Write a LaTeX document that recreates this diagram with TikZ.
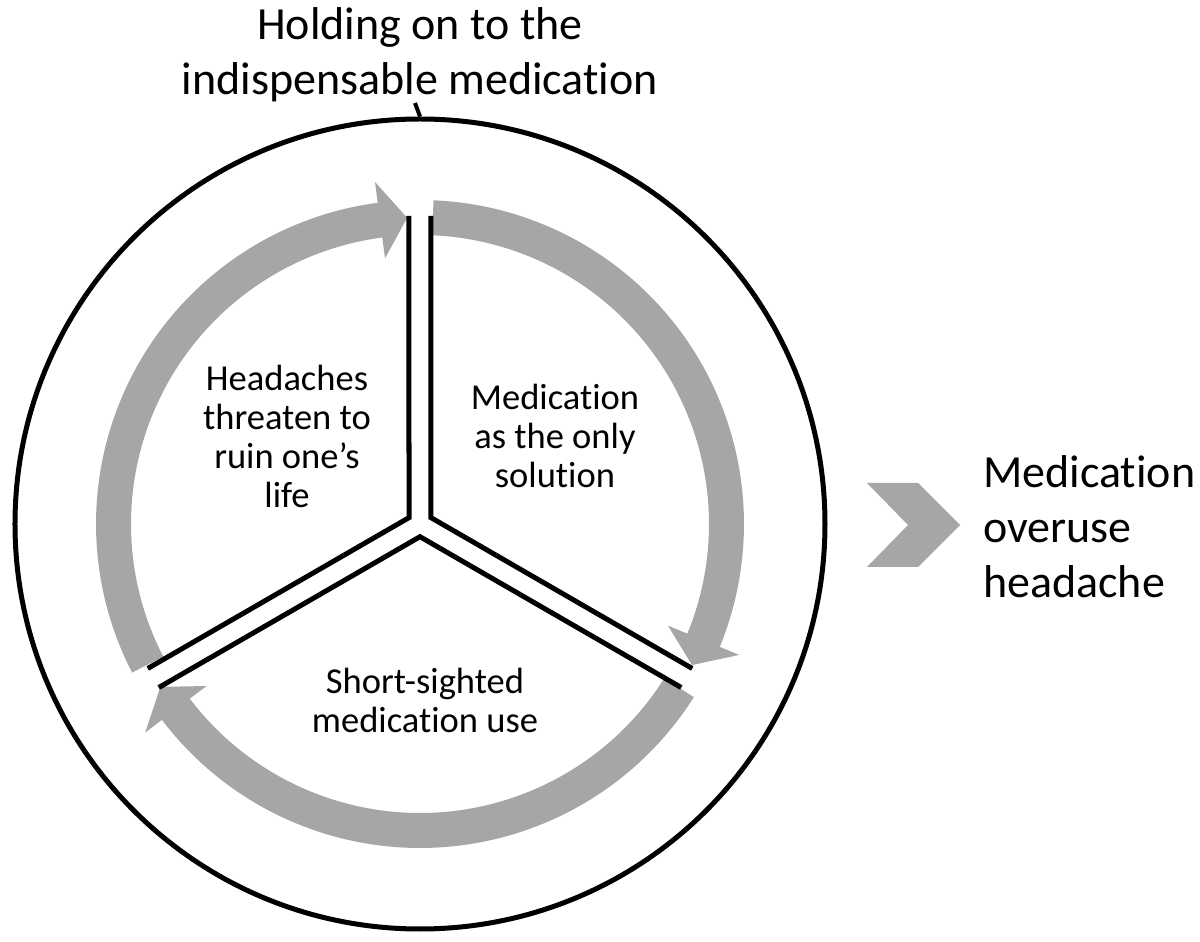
\documentclass[tikz,border=0pt]{standalone}
\usepackage{fontspec}
\setmainfont{Carlito}[Ligatures=NoCommon]
\usetikzlibrary{calc}
\definecolor{arrowgray}{RGB}{166,166,166}

\begin{document}
\begin{tikzpicture}[x=1pt, y=1pt,
    divider/.style={draw, line width=5pt, line join=miter},
    band/.style={fill=arrowgray},
    inner/.style={align=center, inner sep=0pt, font=\fontsize{36.5}{39}\selectfont},
    outer/.style={align=center, inner sep=0pt, font=\fontsize{46}{55}\selectfont}]
    \useasboundingbox (-420,-418) rectangle (780,524);
    % Outer ring
    \node[circle, draw, line width=5pt, minimum size=810, inner sep=0pt] (ring) at (0,0) {};
    \coordinate (tick) at (-5,421);
    \draw[line width=4pt] (ring.north) -- (tick);
    % Gray arrows
    \foreach \s/\t in {207.3/92.4, 87.6/-27.4, -32.3/-147.9} {
        \pgfmathsetmacro{\b}{\t+5.1}
        \fill[band] (\s:324) arc[start angle=\s, end angle=\b, radius=324]
            -- (\b:345) -- (\t:306.5) -- (\b:268) -- (\b:289)
            arc[start angle=\b, end angle=\s, radius=289] -- cycle;
    }
    % Dividers
    \foreach \w in {30,150,270} {
        \draw[divider] ($({\w+60}:308)+({\w-30}:11)$) -- (\w:12.7)
            -- ($({\w-60}:308)+({\w+30}:11)$);
    }
    % Labels
    \node[outer] (title) at (0,469) {Holding on to the\\indispensable medication};
    \node[inner] (threat) at (-133,88) {Headaches\\threaten to\\ruin one’s\\life};
    \node[inner] (only) at (135,88) {Medication\\as the only\\solution};
    \node[inner] (short) at (5,-176) {Short-sighted\\medication use};
    % Outcome
    \fill[arrowgray] (447,41) -- (498,41) -- (540,-1) -- (498,-43) -- (447,-43) -- (488,-1) -- cycle;
    \node[outer, align=left, anchor=west] (moh) at (563,-3) {Medication\\overuse\\headache};
\end{tikzpicture}
\end{document}
